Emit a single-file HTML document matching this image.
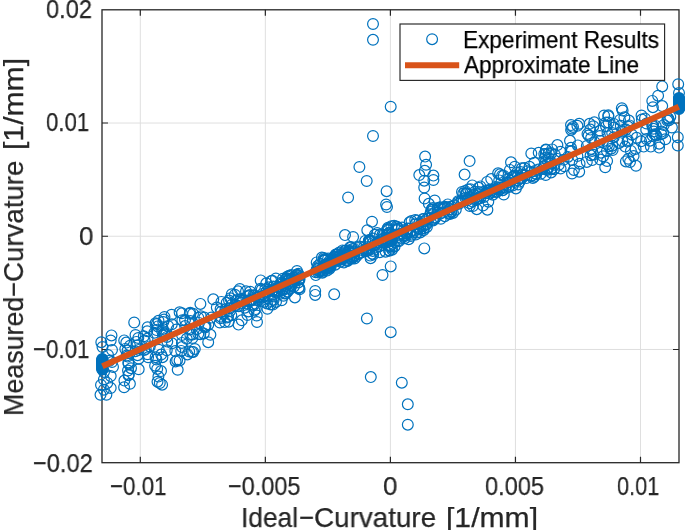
<!DOCTYPE html>
<html><head><meta charset="utf-8"><style>html,body{margin:0;padding:0;background:#fff;width:685px;height:530px;overflow:hidden;position:relative}.t{position:absolute;font-family:"Liberation Sans",sans-serif;white-space:nowrap;line-height:1;transform-origin:0 0;will-change:transform;-webkit-text-stroke:0.25px currentColor}</style></head>
<body>
<svg width="685" height="530" viewBox="0 0 685 530" style="position:absolute;left:0;top:0"><path d="M140.30 9.8V462.7M265.35 9.8V462.7M390.40 9.8V462.7M515.45 9.8V462.7M640.50 9.8V462.7M102.0 123.02H679.0M102.0 236.25H679.0M102.0 349.48H679.0" stroke="#dfdfdf" stroke-width="1" fill="none"/><path d="M140.30 462.7v-6M140.30 9.8v6M265.35 462.7v-6M265.35 9.8v6M390.40 462.7v-6M390.40 9.8v6M515.45 462.7v-6M515.45 9.8v6M640.50 462.7v-6M640.50 9.8v6M102.0 123.02h6M679.0 123.02h-6M102.0 236.25h6M679.0 236.25h-6M102.0 349.48h6M679.0 349.48h-6" stroke="#262626" stroke-width="1.2" fill="none"/><rect x="102.0" y="9.8" width="577.0" height="452.9" fill="none" stroke="#262626" stroke-width="1.3"/><g fill="none" stroke="#0072bd" stroke-width="1.2"><circle cx="186.7" cy="338.8" r="5.4"/><circle cx="176.5" cy="329.5" r="5.4"/><circle cx="182.0" cy="335.0" r="5.4"/><circle cx="189.7" cy="313.7" r="5.4"/><circle cx="185.1" cy="326.1" r="5.4"/><circle cx="182.3" cy="320.2" r="5.4"/><circle cx="185.0" cy="320.1" r="5.4"/><circle cx="181.9" cy="313.3" r="5.4"/><circle cx="189.6" cy="329.5" r="5.4"/><circle cx="181.9" cy="342.9" r="5.4"/><circle cx="181.2" cy="350.9" r="5.4"/><circle cx="175.3" cy="351.1" r="5.4"/><circle cx="182.0" cy="347.1" r="5.4"/><circle cx="189.2" cy="351.5" r="5.4"/><circle cx="179.6" cy="360.4" r="5.4"/><circle cx="187.4" cy="354.4" r="5.4"/><circle cx="177.1" cy="360.2" r="5.4"/><circle cx="175.6" cy="361.4" r="5.4"/><circle cx="198.3" cy="317.7" r="5.4"/><circle cx="193.2" cy="351.9" r="5.4"/><circle cx="192.6" cy="334.5" r="5.4"/><circle cx="190.3" cy="321.0" r="5.4"/><circle cx="190.2" cy="312.7" r="5.4"/><circle cx="198.3" cy="334.1" r="5.4"/><circle cx="199.0" cy="322.9" r="5.4"/><circle cx="193.0" cy="313.7" r="5.4"/><circle cx="196.7" cy="329.3" r="5.4"/><circle cx="194.8" cy="349.0" r="5.4"/><circle cx="190.3" cy="334.7" r="5.4"/><circle cx="192.5" cy="338.0" r="5.4"/><circle cx="200.4" cy="303.9" r="5.4"/><circle cx="204.9" cy="326.1" r="5.4"/><circle cx="208.3" cy="324.7" r="5.4"/><circle cx="205.0" cy="327.4" r="5.4"/><circle cx="210.4" cy="334.8" r="5.4"/><circle cx="200.8" cy="316.2" r="5.4"/><circle cx="205.5" cy="325.7" r="5.4"/><circle cx="208.2" cy="342.2" r="5.4"/><circle cx="203.8" cy="333.5" r="5.4"/><circle cx="211.4" cy="317.6" r="5.4"/><circle cx="200.3" cy="334.3" r="5.4"/><circle cx="204.3" cy="317.6" r="5.4"/><circle cx="228.7" cy="321.7" r="5.4"/><circle cx="223.7" cy="314.0" r="5.4"/><circle cx="221.0" cy="316.7" r="5.4"/><circle cx="228.1" cy="316.6" r="5.4"/><circle cx="219.8" cy="322.5" r="5.4"/><circle cx="229.0" cy="300.5" r="5.4"/><circle cx="229.9" cy="308.3" r="5.4"/><circle cx="216.8" cy="307.5" r="5.4"/><circle cx="225.5" cy="309.3" r="5.4"/><circle cx="224.8" cy="322.1" r="5.4"/><circle cx="226.9" cy="317.4" r="5.4"/><circle cx="220.5" cy="318.3" r="5.4"/><circle cx="226.7" cy="302.7" r="5.4"/><circle cx="221.4" cy="311.6" r="5.4"/><circle cx="220.6" cy="309.1" r="5.4"/><circle cx="221.4" cy="301.9" r="5.4"/><circle cx="241.3" cy="303.0" r="5.4"/><circle cx="230.4" cy="298.2" r="5.4"/><circle cx="231.3" cy="315.2" r="5.4"/><circle cx="237.7" cy="306.0" r="5.4"/><circle cx="242.4" cy="301.1" r="5.4"/><circle cx="238.5" cy="324.6" r="5.4"/><circle cx="238.0" cy="291.3" r="5.4"/><circle cx="234.5" cy="306.3" r="5.4"/><circle cx="241.8" cy="320.3" r="5.4"/><circle cx="230.1" cy="310.9" r="5.4"/><circle cx="237.6" cy="300.0" r="5.4"/><circle cx="234.9" cy="294.7" r="5.4"/><circle cx="236.0" cy="300.4" r="5.4"/><circle cx="238.8" cy="306.3" r="5.4"/><circle cx="244.9" cy="307.7" r="5.4"/><circle cx="231.5" cy="305.0" r="5.4"/><circle cx="231.8" cy="294.2" r="5.4"/><circle cx="235.4" cy="304.8" r="5.4"/><circle cx="250.9" cy="300.4" r="5.4"/><circle cx="248.5" cy="311.4" r="5.4"/><circle cx="246.0" cy="291.3" r="5.4"/><circle cx="255.0" cy="303.6" r="5.4"/><circle cx="254.7" cy="295.5" r="5.4"/><circle cx="251.4" cy="300.2" r="5.4"/><circle cx="249.6" cy="295.2" r="5.4"/><circle cx="249.9" cy="301.3" r="5.4"/><circle cx="249.0" cy="300.5" r="5.4"/><circle cx="259.3" cy="297.2" r="5.4"/><circle cx="247.4" cy="315.0" r="5.4"/><circle cx="252.2" cy="304.5" r="5.4"/><circle cx="255.8" cy="309.1" r="5.4"/><circle cx="254.4" cy="310.5" r="5.4"/><circle cx="256.8" cy="315.5" r="5.4"/><circle cx="258.8" cy="300.1" r="5.4"/><circle cx="253.7" cy="305.1" r="5.4"/><circle cx="250.2" cy="291.7" r="5.4"/><circle cx="266.4" cy="291.8" r="5.4"/><circle cx="262.7" cy="297.4" r="5.4"/><circle cx="264.9" cy="296.2" r="5.4"/><circle cx="269.0" cy="296.8" r="5.4"/><circle cx="264.3" cy="301.7" r="5.4"/><circle cx="274.3" cy="296.5" r="5.4"/><circle cx="266.3" cy="283.3" r="5.4"/><circle cx="272.4" cy="280.7" r="5.4"/><circle cx="273.6" cy="287.0" r="5.4"/><circle cx="267.0" cy="303.4" r="5.4"/><circle cx="271.3" cy="281.0" r="5.4"/><circle cx="260.5" cy="288.7" r="5.4"/><circle cx="262.4" cy="293.9" r="5.4"/><circle cx="272.9" cy="304.6" r="5.4"/><circle cx="273.7" cy="299.7" r="5.4"/><circle cx="270.8" cy="301.0" r="5.4"/><circle cx="279.7" cy="294.0" r="5.4"/><circle cx="276.0" cy="301.9" r="5.4"/><circle cx="277.6" cy="290.8" r="5.4"/><circle cx="273.3" cy="286.4" r="5.4"/><circle cx="278.4" cy="287.0" r="5.4"/><circle cx="272.9" cy="290.0" r="5.4"/><circle cx="270.6" cy="304.4" r="5.4"/><circle cx="272.3" cy="291.0" r="5.4"/><circle cx="299.3" cy="278.5" r="5.4"/><circle cx="284.9" cy="288.1" r="5.4"/><circle cx="294.4" cy="281.6" r="5.4"/><circle cx="290.8" cy="284.9" r="5.4"/><circle cx="289.2" cy="279.0" r="5.4"/><circle cx="282.4" cy="289.0" r="5.4"/><circle cx="296.6" cy="274.8" r="5.4"/><circle cx="289.2" cy="275.8" r="5.4"/><circle cx="280.4" cy="288.9" r="5.4"/><circle cx="299.1" cy="287.4" r="5.4"/><circle cx="283.5" cy="295.8" r="5.4"/><circle cx="290.3" cy="288.8" r="5.4"/><circle cx="287.6" cy="291.5" r="5.4"/><circle cx="299.5" cy="279.6" r="5.4"/><circle cx="286.7" cy="279.1" r="5.4"/><circle cx="286.6" cy="277.9" r="5.4"/><circle cx="282.1" cy="284.2" r="5.4"/><circle cx="299.6" cy="289.3" r="5.4"/><circle cx="287.9" cy="283.6" r="5.4"/><circle cx="287.2" cy="283.9" r="5.4"/><circle cx="296.7" cy="277.5" r="5.4"/><circle cx="281.0" cy="282.7" r="5.4"/><circle cx="284.7" cy="293.4" r="5.4"/><circle cx="298.5" cy="280.0" r="5.4"/><circle cx="293.9" cy="286.5" r="5.4"/><circle cx="280.1" cy="284.1" r="5.4"/><circle cx="290.1" cy="283.1" r="5.4"/><circle cx="291.2" cy="275.1" r="5.4"/><circle cx="287.1" cy="280.9" r="5.4"/><circle cx="282.8" cy="278.8" r="5.4"/><circle cx="287.5" cy="276.5" r="5.4"/><circle cx="285.9" cy="293.2" r="5.4"/><circle cx="298.6" cy="288.2" r="5.4"/><circle cx="297.9" cy="274.9" r="5.4"/><circle cx="282.6" cy="290.3" r="5.4"/><circle cx="293.3" cy="277.8" r="5.4"/><circle cx="291.5" cy="285.8" r="5.4"/><circle cx="298.3" cy="273.7" r="5.4"/><circle cx="299.0" cy="276.0" r="5.4"/><circle cx="285.6" cy="289.1" r="5.4"/><circle cx="318.7" cy="270.8" r="5.4"/><circle cx="315.8" cy="275.1" r="5.4"/><circle cx="319.8" cy="271.4" r="5.4"/><circle cx="329.4" cy="262.9" r="5.4"/><circle cx="325.0" cy="258.9" r="5.4"/><circle cx="317.8" cy="266.1" r="5.4"/><circle cx="323.0" cy="271.8" r="5.4"/><circle cx="320.1" cy="263.7" r="5.4"/><circle cx="316.7" cy="262.4" r="5.4"/><circle cx="327.1" cy="270.6" r="5.4"/><circle cx="321.9" cy="257.6" r="5.4"/><circle cx="329.7" cy="264.9" r="5.4"/><circle cx="316.7" cy="269.4" r="5.4"/><circle cx="327.5" cy="263.4" r="5.4"/><circle cx="324.9" cy="264.8" r="5.4"/><circle cx="324.9" cy="267.3" r="5.4"/><circle cx="324.4" cy="259.6" r="5.4"/><circle cx="328.3" cy="267.2" r="5.4"/><circle cx="328.3" cy="266.1" r="5.4"/><circle cx="323.8" cy="260.5" r="5.4"/><circle cx="329.6" cy="260.7" r="5.4"/><circle cx="322.4" cy="272.7" r="5.4"/><circle cx="323.8" cy="258.1" r="5.4"/><circle cx="325.7" cy="268.4" r="5.4"/><circle cx="323.0" cy="270.5" r="5.4"/><circle cx="329.6" cy="266.7" r="5.4"/><circle cx="328.1" cy="258.6" r="5.4"/><circle cx="327.5" cy="265.6" r="5.4"/><circle cx="318.3" cy="272.4" r="5.4"/><circle cx="318.7" cy="267.2" r="5.4"/><circle cx="324.9" cy="260.6" r="5.4"/><circle cx="329.6" cy="268.7" r="5.4"/><circle cx="343.5" cy="257.0" r="5.4"/><circle cx="342.5" cy="250.4" r="5.4"/><circle cx="344.7" cy="250.7" r="5.4"/><circle cx="337.0" cy="254.5" r="5.4"/><circle cx="340.7" cy="255.7" r="5.4"/><circle cx="330.8" cy="266.6" r="5.4"/><circle cx="339.9" cy="255.1" r="5.4"/><circle cx="340.4" cy="261.7" r="5.4"/><circle cx="343.9" cy="262.5" r="5.4"/><circle cx="343.2" cy="258.3" r="5.4"/><circle cx="339.4" cy="259.4" r="5.4"/><circle cx="339.6" cy="258.4" r="5.4"/><circle cx="337.2" cy="257.7" r="5.4"/><circle cx="337.3" cy="254.3" r="5.4"/><circle cx="332.8" cy="260.2" r="5.4"/><circle cx="335.7" cy="259.2" r="5.4"/><circle cx="341.8" cy="256.8" r="5.4"/><circle cx="333.7" cy="257.1" r="5.4"/><circle cx="338.5" cy="256.9" r="5.4"/><circle cx="339.3" cy="252.5" r="5.4"/><circle cx="344.2" cy="254.4" r="5.4"/><circle cx="335.7" cy="254.6" r="5.4"/><circle cx="335.1" cy="256.6" r="5.4"/><circle cx="341.4" cy="258.6" r="5.4"/><circle cx="332.6" cy="259.7" r="5.4"/><circle cx="336.1" cy="260.7" r="5.4"/><circle cx="363.3" cy="250.5" r="5.4"/><circle cx="349.5" cy="251.2" r="5.4"/><circle cx="346.7" cy="259.8" r="5.4"/><circle cx="352.5" cy="249.0" r="5.4"/><circle cx="368.8" cy="240.6" r="5.4"/><circle cx="354.1" cy="255.6" r="5.4"/><circle cx="369.2" cy="250.1" r="5.4"/><circle cx="353.5" cy="251.3" r="5.4"/><circle cx="345.6" cy="250.8" r="5.4"/><circle cx="348.7" cy="252.3" r="5.4"/><circle cx="369.7" cy="239.9" r="5.4"/><circle cx="368.0" cy="249.8" r="5.4"/><circle cx="350.3" cy="256.1" r="5.4"/><circle cx="366.5" cy="251.2" r="5.4"/><circle cx="350.8" cy="258.1" r="5.4"/><circle cx="348.8" cy="250.4" r="5.4"/><circle cx="366.9" cy="248.8" r="5.4"/><circle cx="358.6" cy="253.5" r="5.4"/><circle cx="358.4" cy="254.0" r="5.4"/><circle cx="350.1" cy="247.2" r="5.4"/><circle cx="352.6" cy="252.1" r="5.4"/><circle cx="352.9" cy="257.4" r="5.4"/><circle cx="348.9" cy="255.0" r="5.4"/><circle cx="358.2" cy="248.1" r="5.4"/><circle cx="347.5" cy="260.9" r="5.4"/><circle cx="365.3" cy="250.5" r="5.4"/><circle cx="345.3" cy="254.6" r="5.4"/><circle cx="365.2" cy="240.9" r="5.4"/><circle cx="351.2" cy="247.3" r="5.4"/><circle cx="369.3" cy="240.6" r="5.4"/><circle cx="354.0" cy="248.9" r="5.4"/><circle cx="349.4" cy="258.3" r="5.4"/><circle cx="351.5" cy="258.8" r="5.4"/><circle cx="354.6" cy="258.4" r="5.4"/><circle cx="380.4" cy="240.3" r="5.4"/><circle cx="387.0" cy="229.7" r="5.4"/><circle cx="389.5" cy="246.6" r="5.4"/><circle cx="384.6" cy="240.8" r="5.4"/><circle cx="388.2" cy="230.4" r="5.4"/><circle cx="387.9" cy="244.9" r="5.4"/><circle cx="389.5" cy="232.7" r="5.4"/><circle cx="391.6" cy="247.7" r="5.4"/><circle cx="396.4" cy="226.6" r="5.4"/><circle cx="389.1" cy="250.3" r="5.4"/><circle cx="394.1" cy="225.8" r="5.4"/><circle cx="372.8" cy="250.9" r="5.4"/><circle cx="370.6" cy="258.2" r="5.4"/><circle cx="390.1" cy="246.1" r="5.4"/><circle cx="382.6" cy="234.5" r="5.4"/><circle cx="390.1" cy="232.8" r="5.4"/><circle cx="392.4" cy="239.7" r="5.4"/><circle cx="391.4" cy="234.5" r="5.4"/><circle cx="398.7" cy="240.3" r="5.4"/><circle cx="374.8" cy="234.8" r="5.4"/><circle cx="388.9" cy="238.1" r="5.4"/><circle cx="398.2" cy="228.7" r="5.4"/><circle cx="397.0" cy="230.3" r="5.4"/><circle cx="370.0" cy="240.4" r="5.4"/><circle cx="373.0" cy="238.6" r="5.4"/><circle cx="373.2" cy="254.5" r="5.4"/><circle cx="370.2" cy="255.6" r="5.4"/><circle cx="376.6" cy="244.1" r="5.4"/><circle cx="379.1" cy="246.4" r="5.4"/><circle cx="394.6" cy="246.4" r="5.4"/><circle cx="382.6" cy="242.3" r="5.4"/><circle cx="382.8" cy="239.1" r="5.4"/><circle cx="391.1" cy="241.0" r="5.4"/><circle cx="380.0" cy="234.6" r="5.4"/><circle cx="387.8" cy="229.1" r="5.4"/><circle cx="370.6" cy="242.0" r="5.4"/><circle cx="379.8" cy="252.2" r="5.4"/><circle cx="372.2" cy="253.6" r="5.4"/><circle cx="389.3" cy="250.7" r="5.4"/><circle cx="392.8" cy="244.0" r="5.4"/><circle cx="398.8" cy="241.3" r="5.4"/><circle cx="376.9" cy="247.0" r="5.4"/><circle cx="391.4" cy="226.3" r="5.4"/><circle cx="377.2" cy="233.1" r="5.4"/><circle cx="385.6" cy="251.7" r="5.4"/><circle cx="388.0" cy="227.8" r="5.4"/><circle cx="390.6" cy="245.5" r="5.4"/><circle cx="391.3" cy="234.9" r="5.4"/><circle cx="397.8" cy="234.9" r="5.4"/><circle cx="391.0" cy="238.8" r="5.4"/><circle cx="397.6" cy="227.3" r="5.4"/><circle cx="390.5" cy="238.9" r="5.4"/><circle cx="387.8" cy="242.1" r="5.4"/><circle cx="388.5" cy="233.6" r="5.4"/><circle cx="392.1" cy="249.7" r="5.4"/><circle cx="401.0" cy="238.1" r="5.4"/><circle cx="423.5" cy="230.3" r="5.4"/><circle cx="422.2" cy="226.2" r="5.4"/><circle cx="402.4" cy="233.8" r="5.4"/><circle cx="410.9" cy="236.0" r="5.4"/><circle cx="411.5" cy="221.1" r="5.4"/><circle cx="417.1" cy="232.6" r="5.4"/><circle cx="429.3" cy="218.0" r="5.4"/><circle cx="420.1" cy="229.4" r="5.4"/><circle cx="407.6" cy="231.1" r="5.4"/><circle cx="407.1" cy="233.6" r="5.4"/><circle cx="407.6" cy="228.5" r="5.4"/><circle cx="400.2" cy="234.1" r="5.4"/><circle cx="423.9" cy="225.8" r="5.4"/><circle cx="415.2" cy="219.9" r="5.4"/><circle cx="415.8" cy="234.5" r="5.4"/><circle cx="411.8" cy="234.6" r="5.4"/><circle cx="419.0" cy="223.4" r="5.4"/><circle cx="426.9" cy="224.1" r="5.4"/><circle cx="408.7" cy="228.7" r="5.4"/><circle cx="424.1" cy="221.2" r="5.4"/><circle cx="413.7" cy="232.1" r="5.4"/><circle cx="423.8" cy="228.4" r="5.4"/><circle cx="408.7" cy="239.2" r="5.4"/><circle cx="423.1" cy="218.9" r="5.4"/><circle cx="420.2" cy="232.4" r="5.4"/><circle cx="404.9" cy="238.2" r="5.4"/><circle cx="404.4" cy="236.2" r="5.4"/><circle cx="426.9" cy="226.9" r="5.4"/><circle cx="409.6" cy="222.3" r="5.4"/><circle cx="433.1" cy="220.4" r="5.4"/><circle cx="432.9" cy="208.1" r="5.4"/><circle cx="430.8" cy="211.9" r="5.4"/><circle cx="433.1" cy="209.8" r="5.4"/><circle cx="434.7" cy="217.6" r="5.4"/><circle cx="439.7" cy="208.4" r="5.4"/><circle cx="434.1" cy="217.6" r="5.4"/><circle cx="432.8" cy="214.3" r="5.4"/><circle cx="431.7" cy="209.2" r="5.4"/><circle cx="437.8" cy="208.0" r="5.4"/><circle cx="443.8" cy="208.8" r="5.4"/><circle cx="445.2" cy="206.8" r="5.4"/><circle cx="440.2" cy="207.3" r="5.4"/><circle cx="458.2" cy="202.5" r="5.4"/><circle cx="451.3" cy="211.4" r="5.4"/><circle cx="447.8" cy="204.4" r="5.4"/><circle cx="440.1" cy="213.7" r="5.4"/><circle cx="451.5" cy="212.0" r="5.4"/><circle cx="449.9" cy="209.2" r="5.4"/><circle cx="443.3" cy="207.6" r="5.4"/><circle cx="459.0" cy="203.7" r="5.4"/><circle cx="447.5" cy="207.6" r="5.4"/><circle cx="451.5" cy="207.0" r="5.4"/><circle cx="448.7" cy="213.7" r="5.4"/><circle cx="451.0" cy="206.5" r="5.4"/><circle cx="444.8" cy="216.2" r="5.4"/><circle cx="474.8" cy="191.8" r="5.4"/><circle cx="472.3" cy="185.4" r="5.4"/><circle cx="466.3" cy="193.5" r="5.4"/><circle cx="463.3" cy="193.5" r="5.4"/><circle cx="472.9" cy="206.1" r="5.4"/><circle cx="468.1" cy="189.4" r="5.4"/><circle cx="474.1" cy="198.7" r="5.4"/><circle cx="462.3" cy="199.4" r="5.4"/><circle cx="466.0" cy="193.3" r="5.4"/><circle cx="465.0" cy="191.0" r="5.4"/><circle cx="470.4" cy="189.2" r="5.4"/><circle cx="469.6" cy="203.2" r="5.4"/><circle cx="469.8" cy="206.1" r="5.4"/><circle cx="466.7" cy="193.9" r="5.4"/><circle cx="488.3" cy="201.7" r="5.4"/><circle cx="486.3" cy="192.8" r="5.4"/><circle cx="487.1" cy="181.9" r="5.4"/><circle cx="480.4" cy="186.4" r="5.4"/><circle cx="476.9" cy="198.8" r="5.4"/><circle cx="483.0" cy="205.5" r="5.4"/><circle cx="478.3" cy="193.9" r="5.4"/><circle cx="478.7" cy="191.9" r="5.4"/><circle cx="478.6" cy="187.7" r="5.4"/><circle cx="484.0" cy="196.9" r="5.4"/><circle cx="476.8" cy="209.2" r="5.4"/><circle cx="486.1" cy="190.4" r="5.4"/><circle cx="489.5" cy="193.6" r="5.4"/><circle cx="489.0" cy="190.8" r="5.4"/><circle cx="503.7" cy="175.7" r="5.4"/><circle cx="492.9" cy="194.7" r="5.4"/><circle cx="507.9" cy="182.5" r="5.4"/><circle cx="509.9" cy="169.9" r="5.4"/><circle cx="498.7" cy="187.5" r="5.4"/><circle cx="499.2" cy="180.4" r="5.4"/><circle cx="495.9" cy="186.9" r="5.4"/><circle cx="503.8" cy="194.5" r="5.4"/><circle cx="498.1" cy="173.3" r="5.4"/><circle cx="502.9" cy="187.8" r="5.4"/><circle cx="499.7" cy="189.5" r="5.4"/><circle cx="509.1" cy="185.8" r="5.4"/><circle cx="500.0" cy="174.3" r="5.4"/><circle cx="491.2" cy="179.1" r="5.4"/><circle cx="502.1" cy="175.7" r="5.4"/><circle cx="502.4" cy="190.3" r="5.4"/><circle cx="492.7" cy="191.9" r="5.4"/><circle cx="496.6" cy="189.1" r="5.4"/><circle cx="519.7" cy="181.6" r="5.4"/><circle cx="526.5" cy="178.1" r="5.4"/><circle cx="521.7" cy="178.3" r="5.4"/><circle cx="522.3" cy="174.9" r="5.4"/><circle cx="517.0" cy="172.4" r="5.4"/><circle cx="529.5" cy="166.8" r="5.4"/><circle cx="514.5" cy="175.6" r="5.4"/><circle cx="514.8" cy="166.7" r="5.4"/><circle cx="512.7" cy="176.7" r="5.4"/><circle cx="524.4" cy="168.0" r="5.4"/><circle cx="525.2" cy="175.6" r="5.4"/><circle cx="518.2" cy="184.4" r="5.4"/><circle cx="520.7" cy="172.0" r="5.4"/><circle cx="514.7" cy="181.9" r="5.4"/><circle cx="521.8" cy="168.3" r="5.4"/><circle cx="515.9" cy="188.4" r="5.4"/><circle cx="514.7" cy="175.9" r="5.4"/><circle cx="510.1" cy="180.8" r="5.4"/><circle cx="531.5" cy="175.5" r="5.4"/><circle cx="545.7" cy="175.0" r="5.4"/><circle cx="548.9" cy="158.0" r="5.4"/><circle cx="544.6" cy="165.7" r="5.4"/><circle cx="532.8" cy="177.9" r="5.4"/><circle cx="548.0" cy="168.4" r="5.4"/><circle cx="534.3" cy="162.8" r="5.4"/><circle cx="534.3" cy="176.7" r="5.4"/><circle cx="538.7" cy="152.8" r="5.4"/><circle cx="544.3" cy="153.9" r="5.4"/><circle cx="544.2" cy="166.5" r="5.4"/><circle cx="548.8" cy="153.3" r="5.4"/><circle cx="531.3" cy="153.5" r="5.4"/><circle cx="536.3" cy="174.1" r="5.4"/><circle cx="552.1" cy="149.4" r="5.4"/><circle cx="554.8" cy="154.7" r="5.4"/><circle cx="551.0" cy="163.7" r="5.4"/><circle cx="551.2" cy="153.3" r="5.4"/><circle cx="546.7" cy="169.0" r="5.4"/><circle cx="551.5" cy="169.0" r="5.4"/><circle cx="563.6" cy="159.8" r="5.4"/><circle cx="557.4" cy="145.1" r="5.4"/><circle cx="545.9" cy="149.6" r="5.4"/><circle cx="560.4" cy="151.7" r="5.4"/><circle cx="545.9" cy="150.1" r="5.4"/><circle cx="551.1" cy="172.4" r="5.4"/><circle cx="545.8" cy="154.0" r="5.4"/><circle cx="560.6" cy="168.5" r="5.4"/><circle cx="545.1" cy="157.9" r="5.4"/><circle cx="554.1" cy="169.2" r="5.4"/><circle cx="653.3" cy="128.8" r="5.4"/><circle cx="646.4" cy="139.1" r="5.4"/><circle cx="652.6" cy="135.8" r="5.4"/><circle cx="654.5" cy="134.3" r="5.4"/><circle cx="650.0" cy="140.7" r="5.4"/><circle cx="643.7" cy="146.6" r="5.4"/><circle cx="646.2" cy="129.7" r="5.4"/><circle cx="652.5" cy="126.2" r="5.4"/><circle cx="653.8" cy="131.5" r="5.4"/><circle cx="652.3" cy="124.8" r="5.4"/><circle cx="641.9" cy="119.6" r="5.4"/><circle cx="644.9" cy="118.5" r="5.4"/><circle cx="646.5" cy="123.5" r="5.4"/><circle cx="641.1" cy="141.3" r="5.4"/><circle cx="661.1" cy="134.2" r="5.4"/><circle cx="655.6" cy="134.9" r="5.4"/><circle cx="663.8" cy="125.0" r="5.4"/><circle cx="659.2" cy="143.7" r="5.4"/><circle cx="655.7" cy="125.9" r="5.4"/><circle cx="669.0" cy="120.3" r="5.4"/><circle cx="661.6" cy="131.6" r="5.4"/><circle cx="656.2" cy="135.4" r="5.4"/><circle cx="671.9" cy="127.5" r="5.4"/><circle cx="668.2" cy="118.6" r="5.4"/><circle cx="670.3" cy="116.9" r="5.4"/><circle cx="667.7" cy="117.9" r="5.4"/><circle cx="124.2" cy="340.4" r="5.4"/><circle cx="126.3" cy="342.6" r="5.4"/><circle cx="130.0" cy="345.7" r="5.4"/><circle cx="125.3" cy="348.9" r="5.4"/><circle cx="127.6" cy="350.6" r="5.4"/><circle cx="126.6" cy="355.5" r="5.4"/><circle cx="127.5" cy="356.6" r="5.4"/><circle cx="128.3" cy="362.4" r="5.4"/><circle cx="128.6" cy="363.7" r="5.4"/><circle cx="131.0" cy="368.2" r="5.4"/><circle cx="128.0" cy="370.5" r="5.4"/><circle cx="128.8" cy="374.6" r="5.4"/><circle cx="128.5" cy="375.2" r="5.4"/><circle cx="124.4" cy="380.6" r="5.4"/><circle cx="129.9" cy="383.8" r="5.4"/><circle cx="124.1" cy="387.3" r="5.4"/><circle cx="135.5" cy="335.0" r="5.4"/><circle cx="138.3" cy="338.0" r="5.4"/><circle cx="136.4" cy="341.9" r="5.4"/><circle cx="137.3" cy="345.5" r="5.4"/><circle cx="138.7" cy="349.9" r="5.4"/><circle cx="135.5" cy="351.3" r="5.4"/><circle cx="137.6" cy="355.2" r="5.4"/><circle cx="138.7" cy="358.7" r="5.4"/><circle cx="147.6" cy="327.2" r="5.4"/><circle cx="147.2" cy="331.3" r="5.4"/><circle cx="143.8" cy="336.3" r="5.4"/><circle cx="147.6" cy="338.5" r="5.4"/><circle cx="144.7" cy="340.6" r="5.4"/><circle cx="149.8" cy="346.4" r="5.4"/><circle cx="145.7" cy="349.0" r="5.4"/><circle cx="144.3" cy="350.1" r="5.4"/><circle cx="147.5" cy="354.3" r="5.4"/><circle cx="148.1" cy="357.3" r="5.4"/><circle cx="158.5" cy="320.7" r="5.4"/><circle cx="163.3" cy="322.1" r="5.4"/><circle cx="155.5" cy="323.3" r="5.4"/><circle cx="156.8" cy="324.1" r="5.4"/><circle cx="168.1" cy="326.0" r="5.4"/><circle cx="157.8" cy="326.4" r="5.4"/><circle cx="162.9" cy="328.9" r="5.4"/><circle cx="156.5" cy="330.1" r="5.4"/><circle cx="162.1" cy="330.9" r="5.4"/><circle cx="154.3" cy="332.8" r="5.4"/><circle cx="164.2" cy="333.3" r="5.4"/><circle cx="166.1" cy="334.4" r="5.4"/><circle cx="163.0" cy="335.5" r="5.4"/><circle cx="166.9" cy="336.9" r="5.4"/><circle cx="158.8" cy="349.7" r="5.4"/><circle cx="161.2" cy="354.6" r="5.4"/><circle cx="155.6" cy="357.2" r="5.4"/><circle cx="156.5" cy="359.5" r="5.4"/><circle cx="155.1" cy="365.7" r="5.4"/><circle cx="157.2" cy="368.9" r="5.4"/><circle cx="161.0" cy="371.1" r="5.4"/><circle cx="158.4" cy="376.6" r="5.4"/><circle cx="157.5" cy="381.7" r="5.4"/><circle cx="162.1" cy="384.7" r="5.4"/><circle cx="171.6" cy="314.7" r="5.4"/><circle cx="164.1" cy="319.6" r="5.4"/><circle cx="171.8" cy="324.3" r="5.4"/><circle cx="164.2" cy="334.2" r="5.4"/><circle cx="167.3" cy="341.6" r="5.4"/><circle cx="172.0" cy="343.3" r="5.4"/><circle cx="166.8" cy="350.3" r="5.4"/><circle cx="162.4" cy="357.2" r="5.4"/><circle cx="571.0" cy="125.1" r="5.4"/><circle cx="577.4" cy="125.8" r="5.4"/><circle cx="572.0" cy="128.5" r="5.4"/><circle cx="571.1" cy="129.9" r="5.4"/><circle cx="570.0" cy="140.8" r="5.4"/><circle cx="577.8" cy="145.4" r="5.4"/><circle cx="571.0" cy="147.8" r="5.4"/><circle cx="571.8" cy="151.0" r="5.4"/><circle cx="570.5" cy="151.3" r="5.4"/><circle cx="577.4" cy="156.1" r="5.4"/><circle cx="567.9" cy="156.9" r="5.4"/><circle cx="572.3" cy="160.0" r="5.4"/><circle cx="579.6" cy="163.7" r="5.4"/><circle cx="564.3" cy="166.3" r="5.4"/><circle cx="573.9" cy="170.0" r="5.4"/><circle cx="579.2" cy="171.7" r="5.4"/><circle cx="594.3" cy="122.3" r="5.4"/><circle cx="593.3" cy="126.2" r="5.4"/><circle cx="590.3" cy="129.6" r="5.4"/><circle cx="587.5" cy="133.9" r="5.4"/><circle cx="588.6" cy="135.6" r="5.4"/><circle cx="591.1" cy="138.1" r="5.4"/><circle cx="594.7" cy="142.2" r="5.4"/><circle cx="586.8" cy="146.0" r="5.4"/><circle cx="591.1" cy="148.9" r="5.4"/><circle cx="592.1" cy="151.0" r="5.4"/><circle cx="593.4" cy="154.7" r="5.4"/><circle cx="590.6" cy="155.3" r="5.4"/><circle cx="592.2" cy="160.1" r="5.4"/><circle cx="586.8" cy="161.9" r="5.4"/><circle cx="608.3" cy="115.2" r="5.4"/><circle cx="608.4" cy="116.3" r="5.4"/><circle cx="608.6" cy="122.5" r="5.4"/><circle cx="606.0" cy="122.6" r="5.4"/><circle cx="606.0" cy="126.2" r="5.4"/><circle cx="599.9" cy="130.7" r="5.4"/><circle cx="607.5" cy="133.0" r="5.4"/><circle cx="599.9" cy="136.1" r="5.4"/><circle cx="600.1" cy="140.9" r="5.4"/><circle cx="607.7" cy="144.0" r="5.4"/><circle cx="608.9" cy="146.2" r="5.4"/><circle cx="606.9" cy="151.1" r="5.4"/><circle cx="601.0" cy="152.7" r="5.4"/><circle cx="603.1" cy="156.3" r="5.4"/><circle cx="600.2" cy="159.5" r="5.4"/><circle cx="607.1" cy="161.0" r="5.4"/><circle cx="620.0" cy="119.9" r="5.4"/><circle cx="613.8" cy="123.9" r="5.4"/><circle cx="620.8" cy="125.7" r="5.4"/><circle cx="613.9" cy="127.6" r="5.4"/><circle cx="622.6" cy="131.5" r="5.4"/><circle cx="612.2" cy="132.9" r="5.4"/><circle cx="613.7" cy="137.2" r="5.4"/><circle cx="622.3" cy="141.0" r="5.4"/><circle cx="619.2" cy="142.9" r="5.4"/><circle cx="612.3" cy="145.7" r="5.4"/><circle cx="611.1" cy="148.7" r="5.4"/><circle cx="612.6" cy="150.1" r="5.4"/><circle cx="624.4" cy="117.3" r="5.4"/><circle cx="628.9" cy="120.6" r="5.4"/><circle cx="629.5" cy="125.4" r="5.4"/><circle cx="628.1" cy="126.6" r="5.4"/><circle cx="625.9" cy="129.6" r="5.4"/><circle cx="631.9" cy="134.7" r="5.4"/><circle cx="636.6" cy="137.8" r="5.4"/><circle cx="627.9" cy="140.1" r="5.4"/><circle cx="627.5" cy="141.6" r="5.4"/><circle cx="625.2" cy="146.6" r="5.4"/><circle cx="635.6" cy="148.9" r="5.4"/><circle cx="630.9" cy="150.9" r="5.4"/><circle cx="633.6" cy="156.1" r="5.4"/><circle cx="628.3" cy="158.8" r="5.4"/><circle cx="625.9" cy="161.4" r="5.4"/><circle cx="636.0" cy="165.8" r="5.4"/><circle cx="241.4" cy="298.9" r="5.4"/><circle cx="242.8" cy="300.3" r="5.4"/><circle cx="246.1" cy="303.4" r="5.4"/><circle cx="248.6" cy="296.3" r="5.4"/><circle cx="249.8" cy="295.2" r="5.4"/><circle cx="251.6" cy="299.2" r="5.4"/><circle cx="253.4" cy="295.3" r="5.4"/><circle cx="257.0" cy="297.1" r="5.4"/><circle cx="258.3" cy="297.0" r="5.4"/><circle cx="261.8" cy="289.6" r="5.4"/><circle cx="264.0" cy="295.5" r="5.4"/><circle cx="265.2" cy="289.5" r="5.4"/><circle cx="268.8" cy="289.7" r="5.4"/><circle cx="269.1" cy="287.2" r="5.4"/><circle cx="273.0" cy="290.5" r="5.4"/><circle cx="275.1" cy="290.8" r="5.4"/><circle cx="276.7" cy="292.5" r="5.4"/><circle cx="278.6" cy="287.5" r="5.4"/><circle cx="281.8" cy="286.7" r="5.4"/><circle cx="284.1" cy="285.2" r="5.4"/><circle cx="286.0" cy="279.1" r="5.4"/><circle cx="287.2" cy="281.0" r="5.4"/><circle cx="289.1" cy="279.6" r="5.4"/><circle cx="291.3" cy="279.0" r="5.4"/><circle cx="294.7" cy="278.3" r="5.4"/><circle cx="296.4" cy="276.0" r="5.4"/><circle cx="298.4" cy="282.4" r="5.4"/><circle cx="315.6" cy="272.2" r="5.4"/><circle cx="318.0" cy="268.8" r="5.4"/><circle cx="321.4" cy="270.6" r="5.4"/><circle cx="323.2" cy="266.8" r="5.4"/><circle cx="324.4" cy="265.6" r="5.4"/><circle cx="327.4" cy="268.5" r="5.4"/><circle cx="330.1" cy="266.3" r="5.4"/><circle cx="332.0" cy="259.6" r="5.4"/><circle cx="335.2" cy="264.7" r="5.4"/><circle cx="336.3" cy="256.9" r="5.4"/><circle cx="338.9" cy="259.8" r="5.4"/><circle cx="341.7" cy="259.5" r="5.4"/><circle cx="343.3" cy="258.6" r="5.4"/><circle cx="345.2" cy="252.4" r="5.4"/><circle cx="346.8" cy="260.7" r="5.4"/><circle cx="350.7" cy="252.4" r="5.4"/><circle cx="353.0" cy="253.6" r="5.4"/><circle cx="353.5" cy="256.8" r="5.4"/><circle cx="356.8" cy="256.0" r="5.4"/><circle cx="359.2" cy="246.6" r="5.4"/><circle cx="361.3" cy="252.5" r="5.4"/><circle cx="364.2" cy="246.7" r="5.4"/><circle cx="365.6" cy="249.8" r="5.4"/><circle cx="367.0" cy="250.6" r="5.4"/><circle cx="370.6" cy="241.0" r="5.4"/><circle cx="372.4" cy="243.4" r="5.4"/><circle cx="373.7" cy="245.2" r="5.4"/><circle cx="377.7" cy="242.8" r="5.4"/><circle cx="378.0" cy="242.1" r="5.4"/><circle cx="381.7" cy="245.1" r="5.4"/><circle cx="383.8" cy="235.0" r="5.4"/><circle cx="386.6" cy="239.3" r="5.4"/><circle cx="386.8" cy="234.5" r="5.4"/><circle cx="389.0" cy="238.8" r="5.4"/><circle cx="391.4" cy="239.2" r="5.4"/><circle cx="393.5" cy="235.5" r="5.4"/><circle cx="396.5" cy="229.2" r="5.4"/><circle cx="397.7" cy="237.3" r="5.4"/><circle cx="402.1" cy="227.5" r="5.4"/><circle cx="403.8" cy="235.4" r="5.4"/><circle cx="406.4" cy="233.2" r="5.4"/><circle cx="407.4" cy="231.1" r="5.4"/><circle cx="410.0" cy="232.2" r="5.4"/><circle cx="412.6" cy="230.0" r="5.4"/><circle cx="415.2" cy="224.3" r="5.4"/><circle cx="417.1" cy="220.5" r="5.4"/><circle cx="418.2" cy="228.4" r="5.4"/><circle cx="420.9" cy="224.7" r="5.4"/><circle cx="423.5" cy="219.3" r="5.4"/><circle cx="425.7" cy="224.8" r="5.4"/><circle cx="427.4" cy="218.4" r="5.4"/><circle cx="429.3" cy="215.9" r="5.4"/><circle cx="432.9" cy="219.5" r="5.4"/><circle cx="435.4" cy="218.0" r="5.4"/><circle cx="437.7" cy="212.5" r="5.4"/><circle cx="438.2" cy="212.2" r="5.4"/><circle cx="440.8" cy="218.8" r="5.4"/><circle cx="442.7" cy="212.6" r="5.4"/><circle cx="444.6" cy="207.5" r="5.4"/><circle cx="447.9" cy="211.8" r="5.4"/><circle cx="450.0" cy="213.9" r="5.4"/><circle cx="453.0" cy="212.9" r="5.4"/><circle cx="454.6" cy="205.3" r="5.4"/><circle cx="455.8" cy="209.8" r="5.4"/><circle cx="458.1" cy="201.2" r="5.4"/><circle cx="461.5" cy="200.8" r="5.4"/><circle cx="463.6" cy="200.6" r="5.4"/><circle cx="465.4" cy="198.0" r="5.4"/><circle cx="467.5" cy="200.2" r="5.4"/><circle cx="469.4" cy="197.3" r="5.4"/><circle cx="472.4" cy="201.6" r="5.4"/><circle cx="473.8" cy="194.5" r="5.4"/><circle cx="476.1" cy="200.0" r="5.4"/><circle cx="478.4" cy="198.4" r="5.4"/><circle cx="480.1" cy="198.2" r="5.4"/><circle cx="482.5" cy="192.3" r="5.4"/><circle cx="486.0" cy="193.3" r="5.4"/><circle cx="488.1" cy="190.5" r="5.4"/><circle cx="490.4" cy="189.6" r="5.4"/><circle cx="492.2" cy="190.2" r="5.4"/><circle cx="495.3" cy="191.8" r="5.4"/><circle cx="496.8" cy="192.1" r="5.4"/><circle cx="499.1" cy="189.9" r="5.4"/><circle cx="501.1" cy="187.5" r="5.4"/><circle cx="502.7" cy="190.3" r="5.4"/><circle cx="505.9" cy="187.8" r="5.4"/><circle cx="508.0" cy="178.9" r="5.4"/><circle cx="509.1" cy="186.9" r="5.4"/><circle cx="512.7" cy="185.6" r="5.4"/><circle cx="515.3" cy="177.6" r="5.4"/><circle cx="517.7" cy="180.3" r="5.4"/><circle cx="519.4" cy="178.7" r="5.4"/><circle cx="520.6" cy="177.8" r="5.4"/><circle cx="523.2" cy="174.7" r="5.4"/><circle cx="525.2" cy="175.3" r="5.4"/><circle cx="527.3" cy="171.3" r="5.4"/><circle cx="530.7" cy="172.0" r="5.4"/><circle cx="531.9" cy="175.7" r="5.4"/><circle cx="534.9" cy="171.0" r="5.4"/><circle cx="536.2" cy="173.9" r="5.4"/><circle cx="538.3" cy="169.6" r="5.4"/><circle cx="540.8" cy="173.8" r="5.4"/><circle cx="542.8" cy="168.9" r="5.4"/><circle cx="545.6" cy="162.2" r="5.4"/><circle cx="547.1" cy="169.9" r="5.4"/><circle cx="550.6" cy="161.6" r="5.4"/><circle cx="551.5" cy="168.4" r="5.4"/><circle cx="554.6" cy="164.8" r="5.4"/><circle cx="557.6" cy="158.9" r="5.4"/><circle cx="558.9" cy="164.8" r="5.4"/><circle cx="101.3" cy="342.2" r="5.4"/><circle cx="111.5" cy="335.4" r="5.4"/><circle cx="110.7" cy="340.5" r="5.4"/><circle cx="112.0" cy="350.0" r="5.4"/><circle cx="109.5" cy="360.8" r="5.4"/><circle cx="103.9" cy="379.5" r="5.4"/><circle cx="110.7" cy="376.1" r="5.4"/><circle cx="107.3" cy="382.9" r="5.4"/><circle cx="110.7" cy="388.0" r="5.4"/><circle cx="103.9" cy="389.7" r="5.4"/><circle cx="100.5" cy="394.8" r="5.4"/><circle cx="106.4" cy="394.8" r="5.4"/><circle cx="134.2" cy="322.5" r="5.4"/><circle cx="138.7" cy="369.3" r="5.4"/><circle cx="102.5" cy="347.0" r="5.4"/><circle cx="108.0" cy="355.0" r="5.4"/><circle cx="104.0" cy="372.0" r="5.4"/><circle cx="101.0" cy="385.0" r="5.4"/><circle cx="112.0" cy="362.0" r="5.4"/><circle cx="113.0" cy="367.0" r="5.4"/><circle cx="159.8" cy="383.0" r="5.4"/><circle cx="177.7" cy="369.8" r="5.4"/><circle cx="164.5" cy="317.0" r="5.4"/><circle cx="179.6" cy="312.3" r="5.4"/><circle cx="191.9" cy="351.9" r="5.4"/><circle cx="213.3" cy="299.3" r="5.4"/><circle cx="239.8" cy="289.0" r="5.4"/><circle cx="257.0" cy="322.0" r="5.4"/><circle cx="260.7" cy="280.4" r="5.4"/><circle cx="267.4" cy="308.8" r="5.4"/><circle cx="275.9" cy="278.5" r="5.4"/><circle cx="281.6" cy="300.3" r="5.4"/><circle cx="297.0" cy="271.0" r="5.4"/><circle cx="294.9" cy="297.4" r="5.4"/><circle cx="373.0" cy="24.0" r="5.4"/><circle cx="373.0" cy="39.8" r="5.4"/><circle cx="390.7" cy="106.7" r="5.4"/><circle cx="373.0" cy="136.0" r="5.4"/><circle cx="359.4" cy="167.0" r="5.4"/><circle cx="366.7" cy="181.0" r="5.4"/><circle cx="348.1" cy="197.5" r="5.4"/><circle cx="386.6" cy="191.2" r="5.4"/><circle cx="386.1" cy="204.5" r="5.4"/><circle cx="387.0" cy="207.0" r="5.4"/><circle cx="372.0" cy="221.7" r="5.4"/><circle cx="367.3" cy="230.2" r="5.4"/><circle cx="345.0" cy="235.1" r="5.4"/><circle cx="353.1" cy="237.0" r="5.4"/><circle cx="315.2" cy="291.0" r="5.4"/><circle cx="315.2" cy="294.9" r="5.4"/><circle cx="334.2" cy="294.3" r="5.4"/><circle cx="390.7" cy="266.4" r="5.4"/><circle cx="382.5" cy="275.0" r="5.4"/><circle cx="366.9" cy="318.5" r="5.4"/><circle cx="390.7" cy="332.2" r="5.4"/><circle cx="370.8" cy="377.1" r="5.4"/><circle cx="401.8" cy="382.7" r="5.4"/><circle cx="407.8" cy="404.3" r="5.4"/><circle cx="407.8" cy="424.7" r="5.4"/><circle cx="424.3" cy="248.4" r="5.4"/><circle cx="425.1" cy="156.6" r="5.4"/><circle cx="426.1" cy="164.8" r="5.4"/><circle cx="424.8" cy="170.8" r="5.4"/><circle cx="419.3" cy="175.1" r="5.4"/><circle cx="433.4" cy="175.6" r="5.4"/><circle cx="433.4" cy="180.0" r="5.4"/><circle cx="424.2" cy="180.7" r="5.4"/><circle cx="424.2" cy="187.5" r="5.4"/><circle cx="424.6" cy="198.5" r="5.4"/><circle cx="428.8" cy="203.8" r="5.4"/><circle cx="434.7" cy="200.5" r="5.4"/><circle cx="469.6" cy="161.1" r="5.4"/><circle cx="464.6" cy="174.6" r="5.4"/><circle cx="462.0" cy="191.9" r="5.4"/><circle cx="487.4" cy="209.7" r="5.4"/><circle cx="511.0" cy="162.3" r="5.4"/><circle cx="573.0" cy="126.9" r="5.4"/><circle cx="579.2" cy="123.8" r="5.4"/><circle cx="572.0" cy="173.5" r="5.4"/><circle cx="589.6" cy="123.8" r="5.4"/><circle cx="604.1" cy="115.5" r="5.4"/><circle cx="605.2" cy="167.3" r="5.4"/><circle cx="621.8" cy="108.2" r="5.4"/><circle cx="622.6" cy="110.6" r="5.4"/><circle cx="630.0" cy="162.0" r="5.4"/><circle cx="641.5" cy="115.5" r="5.4"/><circle cx="650.8" cy="146.6" r="5.4"/><circle cx="659.1" cy="147.6" r="5.4"/><circle cx="662.2" cy="86.4" r="5.4"/><circle cx="658.1" cy="95.7" r="5.4"/><circle cx="652.3" cy="100.9" r="5.4"/><circle cx="652.9" cy="107.2" r="5.4"/><circle cx="662.2" cy="106.1" r="5.4"/><circle cx="665.3" cy="139.3" r="5.4"/><circle cx="667.4" cy="120.6" r="5.4"/><circle cx="663.3" cy="133.0" r="5.4"/><circle cx="678.2" cy="84.2" r="5.4"/><circle cx="679.0" cy="93.0" r="5.4"/><circle cx="677.8" cy="137.2" r="5.4"/><circle cx="677.8" cy="145.5" r="5.4"/><circle cx="102.3" cy="359.0" r="5.4"/><circle cx="102.3" cy="359.5" r="5.4"/><circle cx="102.3" cy="360.0" r="5.4"/><circle cx="102.3" cy="360.5" r="5.4"/><circle cx="102.3" cy="361.0" r="5.4"/><circle cx="102.3" cy="361.5" r="5.4"/><circle cx="102.3" cy="362.0" r="5.4"/><circle cx="102.3" cy="362.5" r="5.4"/><circle cx="102.3" cy="363.0" r="5.4"/><circle cx="102.3" cy="363.5" r="5.4"/><circle cx="102.3" cy="364.0" r="5.4"/><circle cx="102.3" cy="364.5" r="5.4"/><circle cx="102.3" cy="365.0" r="5.4"/><circle cx="102.3" cy="365.5" r="5.4"/><circle cx="102.3" cy="366.0" r="5.4"/><circle cx="102.3" cy="366.5" r="5.4"/><circle cx="102.3" cy="367.0" r="5.4"/><circle cx="102.3" cy="367.5" r="5.4"/><circle cx="102.3" cy="368.0" r="5.4"/><circle cx="102.3" cy="368.5" r="5.4"/><circle cx="102.3" cy="369.0" r="5.4"/><circle cx="102.3" cy="369.5" r="5.4"/><circle cx="679.0" cy="98.0" r="5.4"/><circle cx="679.0" cy="98.5" r="5.4"/><circle cx="679.0" cy="99.0" r="5.4"/><circle cx="679.0" cy="99.5" r="5.4"/><circle cx="679.0" cy="100.0" r="5.4"/><circle cx="679.0" cy="100.5" r="5.4"/><circle cx="679.0" cy="101.0" r="5.4"/><circle cx="679.0" cy="101.5" r="5.4"/><circle cx="679.0" cy="102.0" r="5.4"/><circle cx="679.0" cy="102.5" r="5.4"/><circle cx="679.0" cy="103.0" r="5.4"/><circle cx="679.0" cy="103.5" r="5.4"/><circle cx="679.0" cy="104.0" r="5.4"/><circle cx="679.0" cy="104.5" r="5.4"/><circle cx="679.0" cy="105.0" r="5.4"/><circle cx="679.0" cy="105.5" r="5.4"/><circle cx="679.0" cy="106.0" r="5.4"/><circle cx="679.0" cy="106.5" r="5.4"/><circle cx="679.0" cy="107.0" r="5.4"/><circle cx="679.0" cy="107.5" r="5.4"/><circle cx="679.0" cy="108.0" r="5.4"/><circle cx="679.0" cy="108.5" r="5.4"/><circle cx="679.0" cy="109.0" r="5.4"/></g><line x1="102.4" y1="366.3" x2="678.8" y2="106.7" stroke="#d95319" stroke-width="6"/><rect x="400.0" y="24.0" width="264.6" height="56.4" fill="#fff" stroke="#262626" stroke-width="1.15"/><circle cx="432.1" cy="39.2" r="5.4" fill="none" stroke="#0072bd" stroke-width="1.2"/><line x1="405" y1="65.2" x2="459.2" y2="65.2" stroke="#d95319" stroke-width="6"/></svg>
<div class="t" style="left:45.96px;top:-3.60px;font-size:26.60px;transform:scaleX(0.8883);color:#262626">0.02</div>
<div class="t" style="left:45.58px;top:109.38px;font-size:26.60px;transform:scaleX(0.8340);color:#262626">0.01</div>
<div class="t" style="left:79.02px;top:223.36px;font-size:26.60px;transform:scaleX(0.9730);color:#262626">0</div>
<div class="t" style="left:32.68px;top:336.38px;font-size:26.60px;transform:scaleX(0.8399);color:#262626">−0.01</div>
<div class="t" style="left:32.68px;top:449.64px;font-size:26.60px;transform:scaleX(0.8883);color:#262626">−0.02</div>
<div class="t" style="left:109.58px;top:472.56px;font-size:26.60px;transform:scaleX(0.8397);color:#262626">−0.01</div>
<div class="t" style="left:228.30px;top:472.56px;font-size:26.60px;transform:scaleX(0.8828);color:#262626">−0.005</div>
<div class="t" style="left:383.46px;top:472.56px;font-size:26.60px;transform:scaleX(0.9730);color:#262626">0</div>
<div class="t" style="left:484.96px;top:472.56px;font-size:26.60px;transform:scaleX(0.8866);color:#262626">0.005</div>
<div class="t" style="left:616.74px;top:472.68px;font-size:26.60px;transform:scaleX(0.8161);color:#262626">0.01</div>
<div class="t" style="left:462.54px;top:27.63px;font-size:24.30px;transform:scaleX(0.9307);color:#000">Experiment Results</div>
<div class="t" style="left:463.66px;top:52.93px;font-size:24.30px;transform:scaleX(0.9263);color:#000">Approximate Line</div>
<div class="t" style="left:240.56px;top:503.53px;font-size:28.10px;transform:scaleX(0.9358);color:#262626">Ideal</div>
<div class="t" style="left:298.64px;top:503.53px;font-size:28.10px;transform:scaleX(0.9180);color:#262626">−</div>
<div class="t" style="left:314.26px;top:503.53px;font-size:28.10px;transform:scaleX(0.9902);color:#262626">Curvature</div>
<div class="t" style="left:446.40px;top:503.53px;font-size:28.10px;transform:scaleX(1.0725);color:#262626">[1/mm]</div>
<div class="t" style="left:-0.25px;top:415.60px;font-size:28.10px;transform:rotate(-90deg) scaleX(0.9551);color:#262626">Measured</div>
<div class="t" style="left:-0.25px;top:296.76px;font-size:28.10px;transform:rotate(-90deg) scaleX(0.9121);color:#262626">−</div>
<div class="t" style="left:-0.25px;top:281.64px;font-size:28.10px;transform:rotate(-90deg) scaleX(0.9841);color:#262626">Curvature</div>
<div class="t" style="left:-0.25px;top:149.72px;font-size:28.10px;transform:rotate(-90deg) scaleX(1.0724);color:#262626">[1/mm]</div>
</body></html>
